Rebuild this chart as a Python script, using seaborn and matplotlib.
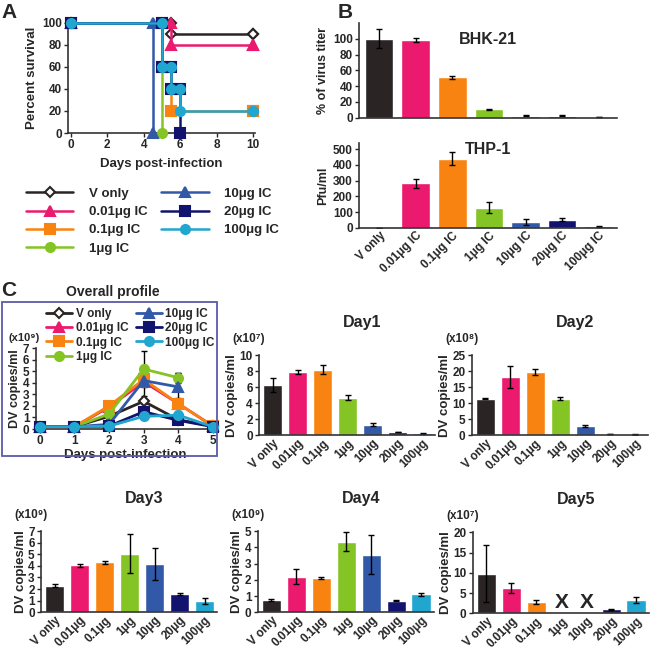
import numpy as np
import pandas as pd
import seaborn as sns
import matplotlib.pyplot as plt
from matplotlib.patches import Rectangle

# --- data -------------------------------------------------------------
groups = ['V only', '0.01μg', '0.1μg', '1μg', '10μg', '20μg', '100μg']
ic_labels = ['V only', '0.01μg IC', '0.1μg IC', '1μg IC', '10μg IC', '20μg IC', '100μg IC']
colors = ['#2a2425', '#ec1a6e', '#f98310', '#84c424', '#3259a7', '#12136f', '#20a6cf']
markers = ['D', '^', 's', 'o', '^', 's', 'o']

# survival (A): event times and percent surviving
surv_t = [[0, 5.5, 10], [0, 5.5, 10], [0, 5, 5.5, 10], [0, 5], [0, 4.5],
          [0, 5, 5.5, 6], [0, 5, 5.5, 6, 10]]
surv_p = [[100, 90, 90], [100, 80, 80], [100, 60, 20, 20], [100, 0], [100, 0],
          [100, 60, 40, 0], [100, 60, 40, 20, 20]]

# B
bhk_val = [100, 98.5, 51, 10.5, 2.5, 2.5, 0.8]
bhk_err = [12, 2.5, 1.5, 0.7, 0.4, 0.4, 0.3]
thp_val = [0, 282, 440, 128, 38, 52, 8]
thp_err = [0, 30, 43, 35, 18, 10, 5]

# C overall profile (x10^9)
prof_days = [0, 1, 2, 3, 4, 5]
prof_val = [[0.2, 0.2, 1.1, 2.4, 0.8, 0.25],
            [0.2, 0.2, 1.9, 4.1, 2.2, 0.25],
            [0.2, 0.2, 2.0, 4.3, 2.2, 0.25],
            [0.2, 0.2, 1.3, 5.2, 4.45],
            [0.2, 0.2, 0.4, 4.2, 3.65],
            [0.2, 0.2, 0.25, 1.5, 0.75, 0.2],
            [0.2, 0.2, 0.25, 1.1, 1.2, 0.2]]
prof_err = [[0, 0, 0.15, 0.2, 0.1, 0.05],
            [0, 0, 0.3, 0.15, 0.45, 0],
            [0, 0, 0.1, 0.15, 0.1, 0],
            [0, 0, 0.1, 1.6, 0.45],
            [0, 0, 0.05, 1.35, 1.2],
            [0, 0, 0, 0.07, 0.03, 0],
            [0, 0, 0, 0.25, 0.1, 0]]

# C day panels
day1_val = [6.3, 7.9, 8.15, 4.7, 1.3, 0.4, 0.25]
day1_err = [0.85, 0.25, 0.55, 0.3, 0.2, 0.05, 0.03]
day2_val = [11.5, 18.3, 19.8, 11.5, 2.9, 0.35, 0.3]
day2_err = [0.15, 3.5, 0.8, 0.5, 0.3, 0.05, 0.05]
day3_val = [2.3, 4.05, 4.3, 5.05, 4.15, 1.55, 0.95]
day3_err = [0.12, 0.15, 0.15, 1.65, 1.35, 0.07, 0.25]
day4_val = [0.75, 2.2, 2.1, 4.35, 3.55, 0.7, 1.1]
day4_err = [0.08, 0.45, 0.08, 0.6, 1.2, 0.03, 0.1]
day5_val = [9.8, 6.3, 2.8, np.nan, np.nan, 1.0, 3.3]
day5_err = [7.0, 1.2, 0.4, 0, 0, 0.15, 0.8]

# --- style ------------------------------------------------------------
sns.set_style('ticks')
plt.rcParams['font.family'] = ['Liberation Sans', 'DejaVu Sans']
plt.rcParams['font.weight'] = 'bold'
plt.rcParams['axes.labelweight'] = 'bold'
plt.rcParams['axes.edgecolor'] = '#333333'
plt.rcParams['axes.linewidth'] = 1.2
plt.rcParams['xtick.major.size'] = 3
plt.rcParams['ytick.major.size'] = 3
plt.rcParams['xtick.major.width'] = 1
plt.rcParams['ytick.major.width'] = 1

W, H = 650, 649
fig = plt.figure(figsize=(6.5, 6.49), dpi=100)


def px_axes(l, t, r, b):
    return fig.add_axes([l / W, 1 - b / H, (r - l) / W, (b - t) / H])


def clean(ax, fs=8.5):
    sns.despine(ax=ax)
    ax.tick_params(labelsize=fs, pad=1.5)
    for lab in ax.get_xticklabels() + ax.get_yticklabels():
        lab.set_fontweight('bold')


def bar_panel(ax, vals, errs, labels, ylim, yticks, fs=8.5):
    df = pd.DataFrame({'g': labels, 'v': vals})
    sns.barplot(data=df, x='g', y='v', hue='g', palette=colors, legend=False,
                width=0.78, ax=ax, errorbar=None, saturation=1)
    ax.errorbar(np.arange(len(vals)), vals, yerr=errs, fmt='none', ecolor='black',
                elinewidth=1, capsize=2.5, capthick=1)
    ax.set_ylim(*ylim)
    ax.set_yticks(yticks)
    ax.set_xlim(-0.55, 6.5)
    ax.set_xlabel('')
    ax.set_ylabel('')
    ax.tick_params(axis='x', length=0)
    clean(ax, fs)
    plt.setp(ax.get_xticklabels(), rotation=45, ha='right', rotation_mode='anchor',
             fontsize=fs)


# --- A: survival ------------------------------------------------------
axA = px_axes(68, 22.7, 255, 133)
lines = []
for i in range(7):
    t, p = surv_t[i], surv_p[i]
    xs, ys = [t[0]], [p[0]]
    for k in range(1, len(t)):
        xs += [t[k], t[k]]
        ys += [p[k - 1], p[k]]
    face = 'white' if i == 0 else colors[i]
    ln, = axA.plot(xs, ys, color=colors[i], lw=1.8, marker=markers[i], ms=6.5 if i else 5.5,
                   mfc=face, mec=colors[i], mew=1.5, clip_on=False, zorder=3 + i,
                   label=ic_labels[i])
    lines.append(ln)
axA.set_xlim(-0.15, 10.1)
axA.set_ylim(0, 100)
axA.set_xticks([0, 2, 4, 6, 8, 10])
axA.set_yticks([0, 20, 40, 60, 80, 100])
axA.set_xlabel('Days post-infection', fontsize=9.5, labelpad=5)
axA.set_ylabel('Percent survival', fontsize=9.5, labelpad=3)
clean(axA, 8.5)

fig.legend(handles=lines, labels=ic_labels, ncol=2, loc='upper left',
           bbox_to_anchor=(14 / W, 1 - 176 / H), frameon=False,
           prop={'size': 9.5, 'weight': 'bold'}, handlelength=3.6, handletextpad=1.2,
           columnspacing=1.0, labelspacing=0.45)

# --- B ----------------------------------------------------------------
axB1 = px_axes(359, 23, 617, 117.7)
bar_panel(axB1, bhk_val, bhk_err, ic_labels, (0, 120), [0, 20, 40, 60, 80, 100])
axB1.set_xticks([])
axB1.set_ylabel('% of virus titer', fontsize=9, labelpad=3)
axB1.text(0.5, 0.83, 'BHK-21', transform=axB1.transAxes, ha='center', va='center',
          fontsize=11.5, fontweight='bold')

axB2 = px_axes(359, 143, 617, 227.7)
bar_panel(axB2, thp_val, thp_err, ic_labels, (0, 540), [0, 100, 200, 300, 400, 500])
axB2.set_ylabel('Pfu/ml', fontsize=9, labelpad=3)
axB2.text(0.5, 0.92, 'THP-1', transform=axB2.transAxes, ha='center', va='center',
          fontsize=11.5, fontweight='bold')

# --- C: overall profile -----------------------------------------------
fig.patches.append(Rectangle((2 / W, 1 - 456 / H), 215 / W, 154 / H, transform=fig.transFigure,
                             fill=False, edgecolor='#5b5ba8', lw=1.3))
fig.text(113 / W, 1 - 292 / H, 'Overall profile', ha='center', va='center',
         fontsize=10, fontweight='bold')

axP = px_axes(35.7, 348.3, 215, 429)
plines = []
for i in range(7):
    d = prof_days[:len(prof_val[i])]
    face = 'white' if i == 0 else colors[i]
    axP.errorbar(d, prof_val[i], yerr=prof_err[i], fmt='none', ecolor='black',
                 elinewidth=1, capsize=2, zorder=2)
    ln, = axP.plot(d, prof_val[i], color=colors[i], lw=2, marker=markers[i],
                   ms=6.5 if i else 5.5, mfc=face, mec=colors[i], mew=1.5, clip_on=False,
                   zorder=3 + i)
    plines.append(ln)
axP.set_xlim(-0.12, 5.06)
axP.set_ylim(0, 7)
axP.set_yticks(range(8))
axP.set_xticks(range(6))
axP.set_xlabel('Days post-infection', fontsize=9.5, labelpad=1)
axP.set_ylabel('DV copies/ml', fontsize=9, labelpad=1)
clean(axP, 8.5)
fig.legend(handles=plines, labels=[s.replace('μg', 'μg IC') for s in groups], ncol=2,
           loc='upper left', bbox_to_anchor=(44 / W, 1 - 306 / H), frameon=False,
           prop={'size': 8.5, 'weight': 'bold'}, handlelength=2.2, handletextpad=0.3,
           columnspacing=0.6, labelspacing=0.18, borderaxespad=0, borderpad=0.2)
fig.text(24 / W, 1 - 338 / H, '(x10⁹)', ha='center', va='center', fontsize=8,
         fontweight='bold')

# --- C: day panels ----------------------------------------------------
day_specs = [
    (259, 355, 435.3, day1_val, day1_err, (0, 10), [0, 2, 4, 6, 8, 10], 'Day1', '(x10⁷)'),
    (471.7, 355.3, 435.3, day2_val, day2_err, (0, 25), [0, 5, 10, 15, 20, 25], 'Day2', '(x10⁸)'),
    (41, 531, 612.3, day3_val, day3_err, (0, 7), list(range(8)), 'Day3', '(x10⁹)'),
    (257.7, 531, 612.3, day4_val, day4_err, (0, 5), list(range(6)), 'Day4', '(x10⁹)'),
    (472.7, 532.3, 613.3, day5_val, day5_err, (0, 20), [0, 5, 10, 15, 20], 'Day5', '(x10⁷)'),
]
for left, top, bot, vals, errs, ylim, yt, title, unit in day_specs:
    ax = px_axes(left, top, left + 176, bot)
    bar_panel(ax, vals, errs, groups, ylim, yt)
    ax.set_ylabel('DV copies/ml', fontsize=9.5, labelpad=1)
    fig.text((left + 103) / W, 1 - (top - 33) / H, title, ha='center', va='center',
             fontsize=11.5, fontweight='bold')
    fig.text((left - 10) / W, 1 - (top - 16) / H, unit, ha='center', va='center',
             fontsize=8.5, fontweight='bold')
    if title == 'Day5':
        for k in range(7):
            if np.isnan(vals[k]):
                ax.text(k, 0.4, 'X', ha='center', va='bottom', fontsize=15,
                        fontweight='bold')

# panel letters
fig.text(9 / W, 1 - 12 / H, 'A', ha='center', va='center', fontsize=15, fontweight='bold')
fig.text(345 / W, 1 - 12 / H, 'B', ha='center', va='center', fontsize=15, fontweight='bold')
fig.text(9 / W, 1 - 290 / H, 'C', ha='center', va='center', fontsize=15, fontweight='bold')

fig.savefig('out.png', dpi=100)
